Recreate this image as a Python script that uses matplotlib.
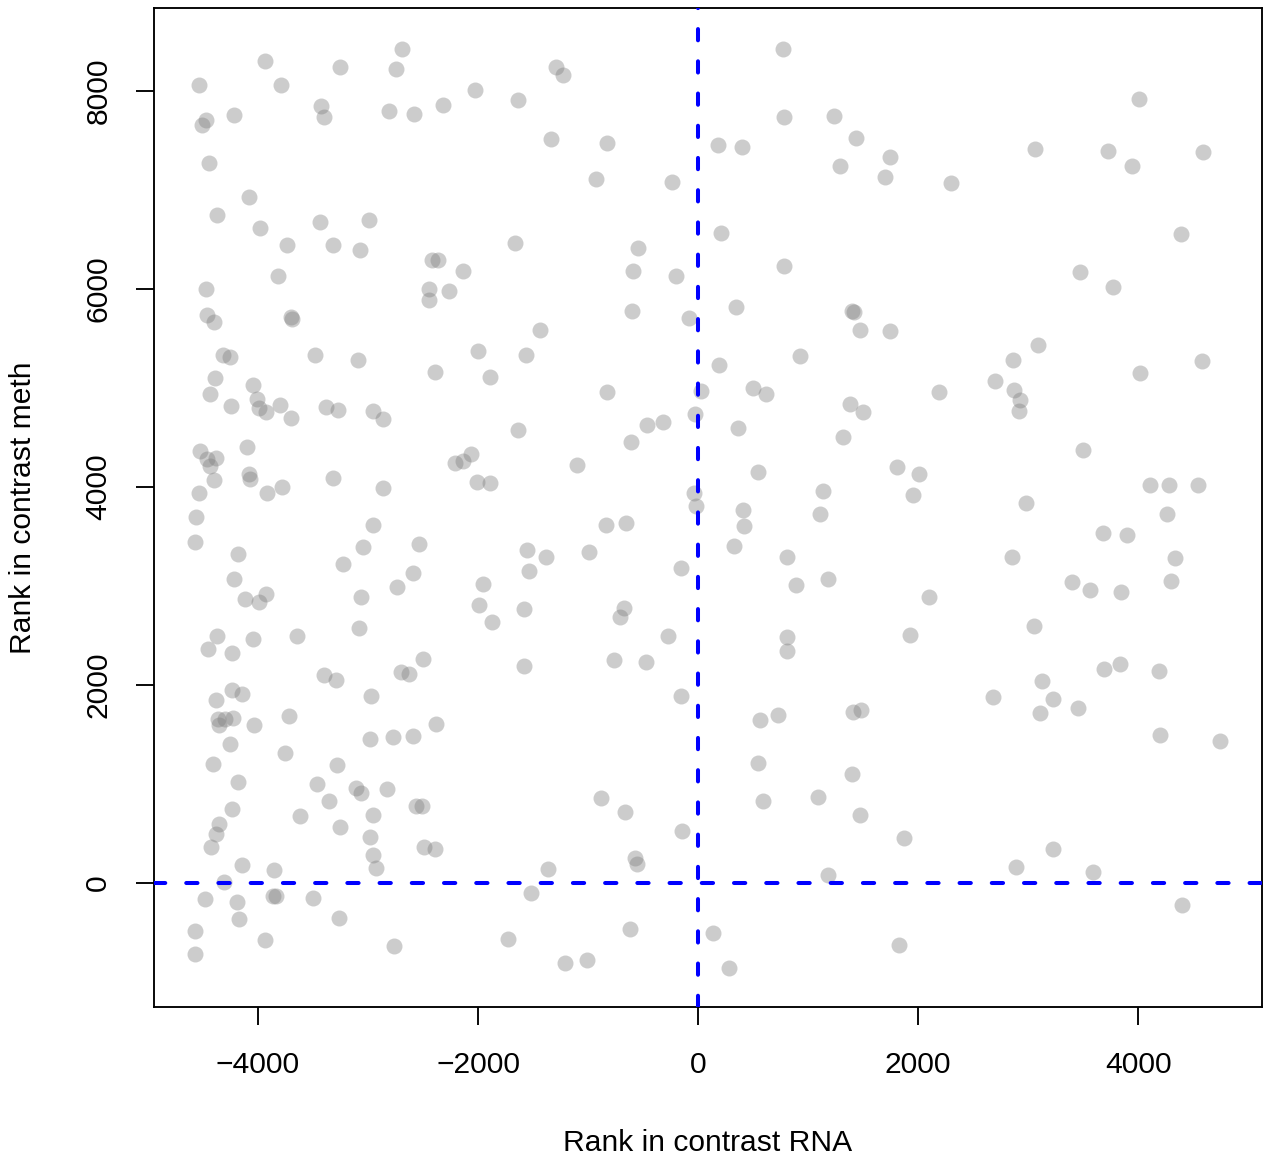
import matplotlib
matplotlib.use("Agg")
import matplotlib.pyplot as plt

plt.rcParams['font.family'] = ['Liberation Sans', 'DejaVu Sans']

# rank in contrast RNA (x) and rank in contrast meth (y)
rank_rna = [
    -4536, -3936, -3790, -3255, -2690, -2745, -3427, -3400, -2810, -2580,
    -2320, -2027, -1636, -4510, -4473, -4218, -4445, -4373, -4082, -3982,
    -3736, -3436, -3318, -3073, -2991, -1664, -2418, -2364,
    -1291, -1227, -1336, -827, -927, -236, -545, 209, 182, 400,
    773, 782, 1236, 1436, 1291, 1700, 1745,
    2300, 3064, 3727, 3945, 4009, 4591, 4391,
    -3818, -4473, -4464, -4400, -3700, -3691, -4318, -4255, -3482, -3091,
    -4391, -4436, -4045, -4009, -3991, -3927, -3800, -3700, -4245, -3382,
    -3273, -2955, -2864, -1636, -2391, -2000, -1891, -1564, -2445, -2445,
    -2264, -2136, -4527, -4464, -4382, -4436, -4400, -4536, -4100, -4082,
    -4073, -3918, -3782, -3318, -2864, -2209, -2136, -2064, -2009, -1891,
    -591, -200, 782, -600, -82, 345, 1400, 1418, 1473, 1745,
    -1436, 191, 927, -827, 27, 500, 618, -27, -318, -464,
    364, -609, 1382, 1500, 1318, -1100, 545, 1136, -36, -18, 409,
    3473, 3773, 3091, 2864, 4582, 4018, 2700, 2191, 2873, 2927,
    2918, 3500, 1809, 2009, 1955, 2982, 4109, 4282, 4545, 4264,
    -4564, -4573, -4182, -4218, -4118, -3927, -3991, -4373, -4455, -4236,
    -4045, -3645, -2955, -3045, -3227, -2536, -2591, -2736, -3064, -3082,
    -1955, -1991, -1873, -1555, -1536, -1582, -1582, -3400, -3291, -2973,
    -2700, -2627, -2500, -4382, -4236, -4145, -4364, -4355, -4300, -4227,
    -4036, -3718, -4255, -3755, -2982, -2773, -2591, -2382, -4409, -3282,
    -836, -655, -1382, -991, -155, -673, -709, -273, -764, -473,
    -155, 418, 327, 809, 891, 1182, 1109, 809, 809, 564,
    727, 1409, 1482, 545,
    3682, 3900, 2855, 4336, 4300, 3400, 3564, 3845, 2100, 3055,
    1927, 3836, 3691, 4191, 3127, 2682, 3227, 3109, 3455, 4200, 4745,
    -4182, -3464, -3109, -3064, -2827, -3355, -4236, -3618, -2564, -2509,
    -4355, -4382, -4427, -3255, -2955, -2982, -2955, -2927, -2491, -2391,
    -4145, -3855, -4309, -4482, -4191, -3864, -3836, -3500, -4173, -3264,
    -4573, -4573, -3936, -2764, -1727,
    -882, -664, -145, -573, -555, -1364, -1518, -618, -1209, -1009,
    136, 282, 591, 1091, 1400, 1473, 1182, 1827,
    1873, 2891, 3227, 3591, 4400,
]
rank_meth = [
    8060, 8300, 8060, 8240, 8425, 8220, 7850, 7740, 7800, 7765,
    7860, 8010, 7910, 7655, 7705, 7755, 7270, 6750, 6930, 6615,
    6445, 6675, 6445, 6395, 6695, 6465, 6295, 6295,
    8240, 8160, 7515, 7475, 7110, 7080, 6415, 6565, 7455, 7435,
    8425, 7737, 7747, 7525, 7242, 7130, 7333,
    7070, 7414, 7394, 7242, 7919, 7384, 6555,
    6130, 6000, 5737, 5667, 5717, 5697, 5333, 5313, 5333, 5283,
    5101, 4939, 5030, 4889, 4798, 4757, 4828, 4697, 4818, 4808,
    4778, 4768, 4687, 4576, 5162, 5374, 5111, 5333, 6000, 5889,
    5980, 6182, 4364, 4283, 4293, 4212, 4071, 3939, 4404, 4131,
    4081, 3939, 4000, 4091, 3990, 4242, 4263, 4333, 4050, 4040,
    6182, 6131, 6232, 5778, 5707, 5818, 5778, 5768, 5586, 5576,
    5586, 5232, 5323, 4960, 4970, 5000, 4939, 4737, 4657, 4626,
    4596, 4455, 4838, 4757, 4505, 4222, 4151, 3960, 3939, 3808, 3768,
    6172, 6020, 5434, 5283, 5273, 5152, 5071, 4960, 4980, 4879,
    4768, 4374, 4202, 4131, 3919, 3838, 4020, 4020, 4020, 3727,
    3697, 3444, 3323, 3071, 2869, 2919, 2838, 2495, 2364, 2323,
    2465, 2495, 3616, 3394, 3222, 3424, 3131, 2990, 2889, 2576,
    3020, 2808, 2636, 3364, 3151, 2768, 2192, 2101, 2050, 1889,
    2131, 2111, 2263, 1848, 1949, 1909, 1657, 1596, 1657, 1667,
    1596, 1687, 1404, 1313, 1455, 1475, 1485, 1606, 1202, 1192,
    3616, 3636, 3293, 3343, 3182, 2778, 2687, 2495, 2253, 2232,
    1889, 3606, 3404, 3293, 3010, 3071, 3727, 2485, 2343, 1646,
    1697, 1727, 1747, 1212,
    3535, 3515, 3293, 3283, 3050, 3040, 2960, 2939, 2889, 2596,
    2505, 2212, 2162, 2141, 2040, 1879, 1859, 1717, 1768, 1495, 1434,
    1020, 1000, 960, 909, 949, 828, 747, 677, 778, 778,
    596, 495, 364, 566, 687, 465, 283, 152, 364, 343,
    182, 131, 10, -162, -192, -131, -131, -152, -364, -354,
    -485, -717, -576, -636, -566,
    859, 717, 525, 253, 192, 141, -101, -465, -808, -778,
    -505, -859, 828, 869, 1101, 687, 81, -626,
    455, 162, 343, 111, -222,
]

x_ticks = [-4000, -2000, 0, 2000, 4000]
y_ticks = [0, 2000, 4000, 6000, 8000]

W, H = 1263, 1158
fig = plt.figure(figsize=(W / 100, H / 100), dpi=100)
ax = fig.add_axes([154 / W, 1 - 1007 / H, (1262 - 154) / W, (1007 - 8) / H])

ax.plot(rank_rna, rank_meth, 'o', color='#808080', alpha=0.4,
        markersize=11.5, markeredgewidth=0, zorder=2)

# dashed cross through the origin
dash = dict(color='blue', lw=2.9, linestyle=(0, (2.8, 5.2)),
            dash_capstyle='round', zorder=3)
ax.axvline(0, **dash)
ax.axhline(0, **dash)

ax.set_xlim(-4945, 5125)
ax.set_ylim(-1253, 8838)
ax.set_xticks(x_ticks)
ax.set_yticks(y_ticks)

fs = 21.6
ax.tick_params(axis='both', direction='out', length=13, width=1.35,
               labelsize=fs, color='black')
ax.tick_params(axis='x', pad=19)
ax.tick_params(axis='y', pad=17)
for lab in ax.get_yticklabels():
    lab.set_rotation(90)
    lab.set_va('center')

for s in ax.spines.values():
    s.set_linewidth(1.35)

ax.set_xlabel('Rank in contrast RNA', fontsize=fs, labelpad=36)
ax.set_ylabel('Rank in contrast meth', fontsize=fs, labelpad=34)

plt.savefig('out.png', dpi=100)
